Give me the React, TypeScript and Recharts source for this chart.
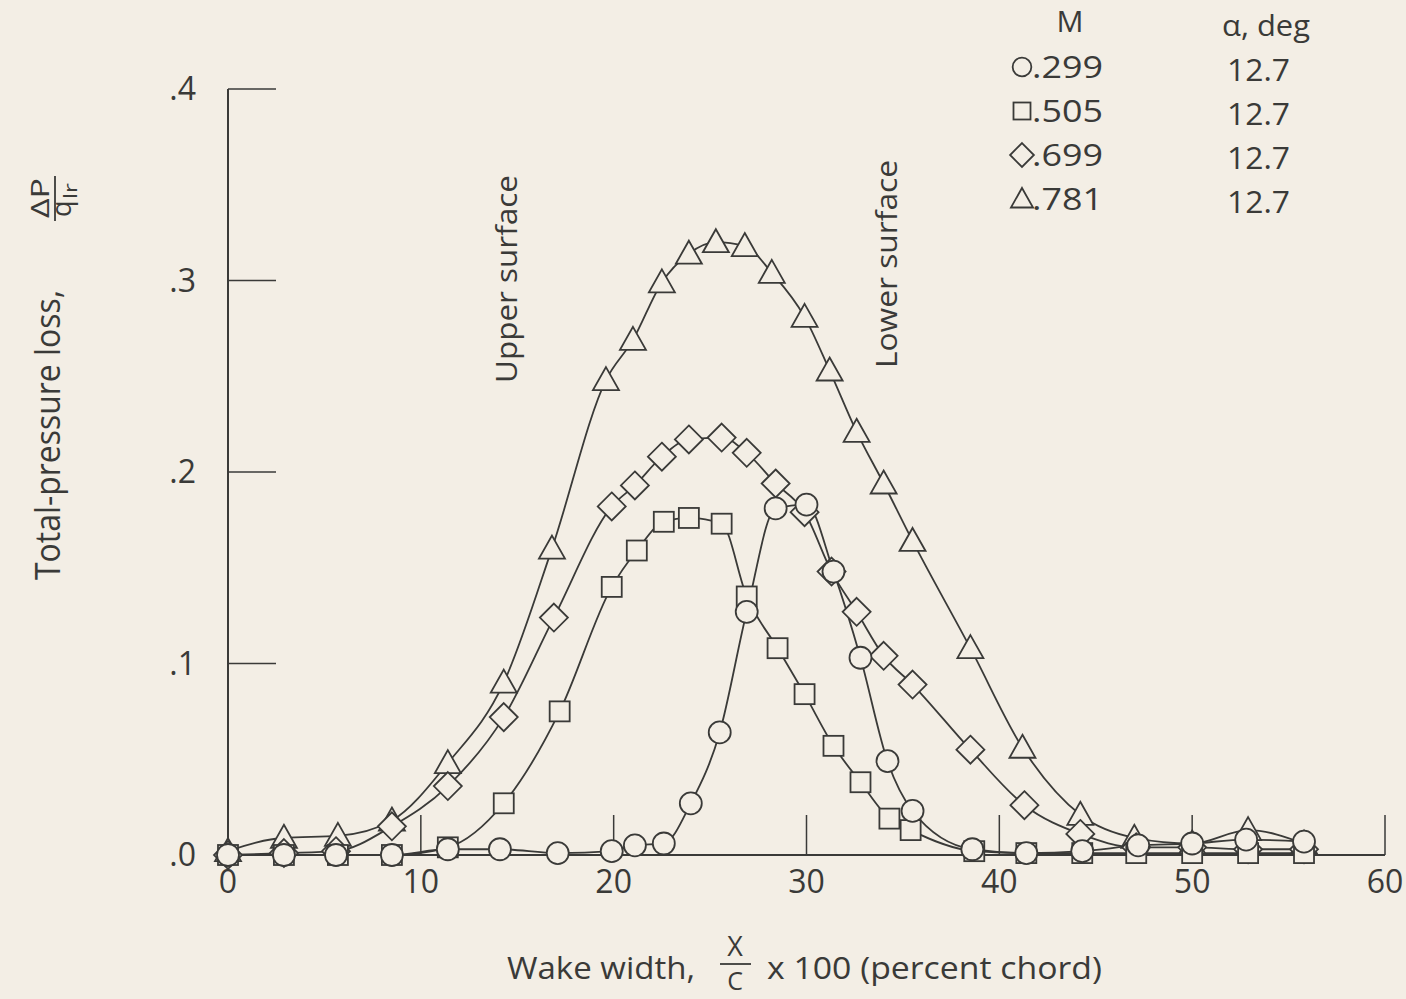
import React from "react";
import { LineChart, Line, XAxis, YAxis } from "recharts";

// wake survey, alpha = 12.7 deg
const xCircle = [0, 2.9, 5.6, 8.5, 11.4, 14.1, 17.1, 19.9, 21.1, 22.6, 24.0, 25.5, 26.9, 28.4, 30.0, 31.4, 32.8, 34.2, 35.5, 38.6, 41.4, 44.3, 47.2, 50.0, 52.8, 55.8];
const yCircle = [0, 0, 0, 0, 0.003, 0.003, 0.001, 0.002, 0.005, 0.006, 0.027, 0.064, 0.127, 0.181, 0.183, 0.148, 0.103, 0.049, 0.023, 0.003, 0.001, 0.002, 0.005, 0.006, 0.008, 0.007];

const xSquare = [0, 2.9, 5.7, 8.5, 11.4, 14.3, 17.2, 19.9, 21.2, 22.6, 23.9, 25.6, 26.9, 28.5, 29.9, 31.4, 32.8, 34.3, 35.4, 38.7, 41.4, 44.3, 47.1, 50.0, 52.9, 55.8];
const ySquare = [0, 0, 0, 0, 0.004, 0.027, 0.075, 0.14, 0.159, 0.174, 0.176, 0.173, 0.135, 0.108, 0.084, 0.057, 0.038, 0.019, 0.013, 0.002, 0.001, 0.001, 0.001, 0.001, 0.001, 0.001];

const xDiamond = [0, 2.9, 5.6, 8.5, 11.4, 14.3, 16.9, 19.9, 21.1, 22.5, 23.9, 25.6, 26.9, 28.4, 29.9, 31.3, 32.6, 34.0, 35.5, 38.5, 41.3, 44.2, 47.1, 50.0, 52.9, 55.8];
const yDiamond = [0, 0.001, 0.002, 0.015, 0.036, 0.072, 0.124, 0.182, 0.193, 0.208, 0.217, 0.218, 0.21, 0.194, 0.179, 0.148, 0.127, 0.104, 0.089, 0.055, 0.026, 0.011, 0.004, 0.004, 0.003, 0.003];

const xTriangle = [0, 2.9, 5.7, 8.5, 11.4, 14.3, 16.8, 19.6, 21.0, 22.5, 23.9, 25.3, 26.8, 28.2, 29.9, 31.2, 32.6, 34.0, 35.5, 38.5, 41.2, 44.2, 47.0, 50.0, 52.9, 55.8];
const yTriangle = [0.002, 0.009, 0.01, 0.018, 0.048, 0.09, 0.16, 0.248, 0.269, 0.299, 0.314, 0.32, 0.318, 0.304, 0.281, 0.253, 0.221, 0.194, 0.164, 0.108, 0.056, 0.021, 0.009, 0.006, 0.013, 0.006];

const machNumbers = [".299", ".505", ".699", ".781"];
const alphaValues = ["12.7", "12.7", "12.7", "12.7"];
const xTicks = [0, 10, 20, 30, 40, 50, 60];
const yTicks = [0, 0.1, 0.2, 0.3, 0.4];

const INK = "#3a3a38";
const PAPER = "#f3eee5";
const FONT = "'Open Sans', 'DejaVu Sans', sans-serif";

type Kind = "circle" | "square" | "diamond" | "triangle";

const toPoints = (xs: number[], ys: number[]) => xs.map((x, i) => ({ x, y: ys[i] }));

function Marker({ kind, cx, cy, s = 1 }: { kind: Kind; cx: number; cy: number; s?: number }) {
  const common = { fill: PAPER, stroke: INK, strokeWidth: 1.8 };
  if (kind === "circle") return <circle cx={cx} cy={cy} r={11 * s} {...common} />;
  if (kind === "square") return <rect x={cx - 10 * s} y={cy - 10 * s} width={20 * s} height={20 * s} {...common} />;
  if (kind === "diamond") {
    const d = 14 * s;
    return <polygon points={`${cx},${cy - d} ${cx + d},${cy} ${cx},${cy + d} ${cx - d},${cy}`} {...common} />;
  }
  const w = 13 * s;
  return <polygon points={`${cx},${cy - 13 * s} ${cx + w},${cy + 10 * s} ${cx - w},${cy + 10 * s}`} {...common} />;
}

const dotFor = (kind: Kind) => (props: any) => {
  const { cx, cy, index } = props;
  return <Marker key={`${kind}-${index}`} kind={kind} cx={cx} cy={cy} />;
};

const series: { kind: Kind; xs: number[]; ys: number[] }[] = [
  { kind: "triangle", xs: xTriangle, ys: yTriangle },
  { kind: "diamond", xs: xDiamond, ys: yDiamond },
  { kind: "square", xs: xSquare, ys: ySquare },
  { kind: "circle", xs: xCircle, ys: yCircle },
];

const yFmt = (v: number) => "." + Math.round(v * 10);

export default function App() {
  return (
    <div style={{ position: "fixed", left: 0, top: 0, width: 1406, height: 999, background: PAPER, fontFamily: FONT }}>
      <LineChart width={1406} height={999} margin={{ top: 89, right: 21, bottom: 44, left: 128 }}>
        <XAxis
          type="number"
          dataKey="x"
          domain={[0, 60]}
          ticks={xTicks}
          allowDuplicatedCategory={false}
          height={100}
          stroke={INK}
          tickSize={-40}
          tickMargin={55}
          tick={{ fill: INK, fontSize: 32, fontFamily: FONT }}
          axisLine={{ stroke: INK, strokeWidth: 2 }}
          tickLine={{ stroke: INK, strokeWidth: 1.5 }}
        />
        <YAxis
          type="number"
          dataKey="y"
          domain={[0, 0.4]}
          ticks={yTicks}
          width={100}
          tickFormatter={yFmt}
          tickSize={-48}
          tickMargin={80}
          tick={{ fill: INK, fontSize: 32, fontFamily: FONT }}
          axisLine={{ stroke: INK, strokeWidth: 2 }}
          tickLine={{ stroke: INK, strokeWidth: 1.5 }}
        />
        {series.map((s) => (
          <Line
            key={s.kind}
            data={toPoints(s.xs, s.ys)}
            dataKey="y"
            type="monotone"
            stroke={INK}
            strokeWidth={1.8}
            dot={dotFor(s.kind)}
            activeDot={false}
            isAnimationActive={false}
          />
        ))}
      </LineChart>
      <svg width={1406} height={999} style={{ position: "absolute", left: 0, top: 0, pointerEvents: "none" }}>
        <g fill={INK} fontFamily={FONT}>
          {/* y axis title */}
          <g transform="translate(60,580) rotate(-90)">
            <text x={0} y={0} fontSize={34} textLength={290} lengthAdjust="spacingAndGlyphs">Total-pressure  loss,</text>
            <text x={362} y={-11} fontSize={26} textLength={40} lengthAdjust="spacingAndGlyphs">ΔP</text>
            <line x1={359} x2={404} y1={-5} y2={-5} stroke={INK} strokeWidth={1.8} />
            <text x={363} y={11} fontSize={27}>q</text>
            <text x={381} y={17} fontSize={18} textLength={16} lengthAdjust="spacingAndGlyphs">lr</text>
          </g>
          {/* x axis title */}
          <text x={507} y={979} fontSize={31} textLength={188} lengthAdjust="spacingAndGlyphs">Wake  width,</text>
          <text x={735} y={956} fontSize={27} textAnchor="middle">X</text>
          <line x1={720} x2={751} y1={964} y2={964} stroke={INK} strokeWidth={1.8} />
          <text x={735} y={990} fontSize={25} textAnchor="middle">C</text>
          <text x={767} y={979} fontSize={31} textLength={335} lengthAdjust="spacingAndGlyphs">x 100 (percent  chord)</text>
          {/* annotations */}
          <text transform="translate(517,383) rotate(-90)" fontSize={30} textLength={208} lengthAdjust="spacingAndGlyphs">Upper  surface</text>
          <text transform="translate(897,368) rotate(-90)" fontSize={30} textLength={208} lengthAdjust="spacingAndGlyphs">Lower  surface</text>
          {/* legend */}
          <text x={1070} y={32} fontSize={30} textAnchor="middle">M</text>
          <text x={1222} y={36} fontSize={30} textLength={88} lengthAdjust="spacingAndGlyphs">α, deg</text>
          {machNumbers.map((m, i) => (
            <g key={m}>
              <Marker kind={series[3 - i].kind} cx={1022} cy={67 + i * 44} s={0.85} />
              <text x={1032} y={78 + i * 44} fontSize={31} textLength={71} lengthAdjust="spacingAndGlyphs">{m}</text>
              <text x={1227} y={81 + i * 44} fontSize={31} textLength={63} lengthAdjust="spacingAndGlyphs">{alphaValues[i]}</text>
            </g>
          ))}
        </g>
      </svg>
    </div>
  );
}
